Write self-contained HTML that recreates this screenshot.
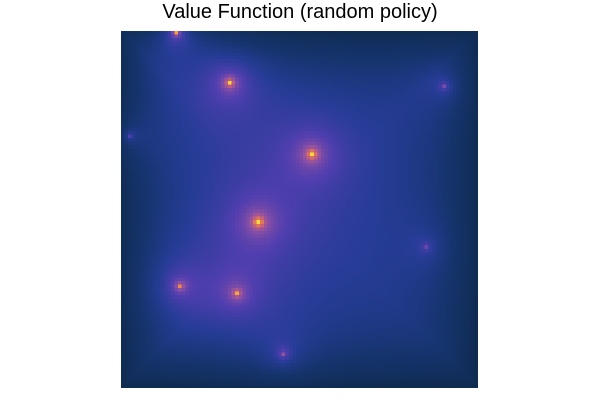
<!DOCTYPE html>
<html><head><meta charset="utf-8"><style>
body{margin:0;background:#fff;width:600px;height:400px;overflow:hidden;font-family:"Liberation Sans",sans-serif}
#title{position:absolute;left:0;width:600px;top:1px;text-align:center;font-size:20px;color:#000}
#hm{position:absolute;left:121px;top:31px;width:357px;height:357px;image-rendering:pixelated}
</style></head><body>
<div id="title">Value Function (random policy)</div>
<canvas id="hm" width="100" height="100"></canvas>
<script>
const gridSize = 100;
const peakCol = [15, 30, 90, 2, 53, 38, 85, 16, 32, 45];
const peakRow = [0, 14, 15, 29, 34, 53, 60, 71, 73, 90];
const peakValue = [1.0, 0.95, 0.45, 0.4, 1.0, 1.0, 0.35, 0.7, 0.7, 0.5];
const baseLevel = 0.3;
const stops = [[0,[12,40,70]],[0.2,[22,52,110]],[0.32,[38,60,150]],[0.45,[80,62,175]],[0.6,[140,80,165]],[0.75,[210,100,110]],[0.88,[245,150,60]],[1,[250,215,60]]];
function color(t){t=Math.max(0,Math.min(1,t));for(let i=1;i<stops.length;i++){if(t<=stops[i][0]){const a=stops[i-1],b=stops[i];const f=(t-a[0])/(b[0]-a[0]);return a[1].map((c,k)=>Math.round(c+(b[1][k]-c)*f));}}return stops[stops.length-1][1];}
const cv=document.getElementById('hm');const ctx=cv.getContext('2d');
const img=ctx.createImageData(gridSize,gridSize);
for(let r=0;r<gridSize;r++)for(let c=0;c<gridSize;c++){
  const de=Math.min(r,c,gridSize-1-r,gridSize-1-c);
  let v=baseLevel*(1-Math.exp(-(de+2)/12));
  for(let i=0;i<peakCol.length;i++){
    const d=Math.hypot(r-peakRow[i],c-peakCol[i]);
    v+=peakValue[i]*(0.45*Math.exp(-d/0.9)+0.25*Math.exp(-d/4.5)+0.12*Math.exp(-d/12));
  }
  const col=color(v);const o=(r*gridSize+c)*4;
  img.data[o]=col[0];img.data[o+1]=col[1];img.data[o+2]=col[2];img.data[o+3]=255;
}
ctx.putImageData(img,0,0);
</script>
</body></html>
